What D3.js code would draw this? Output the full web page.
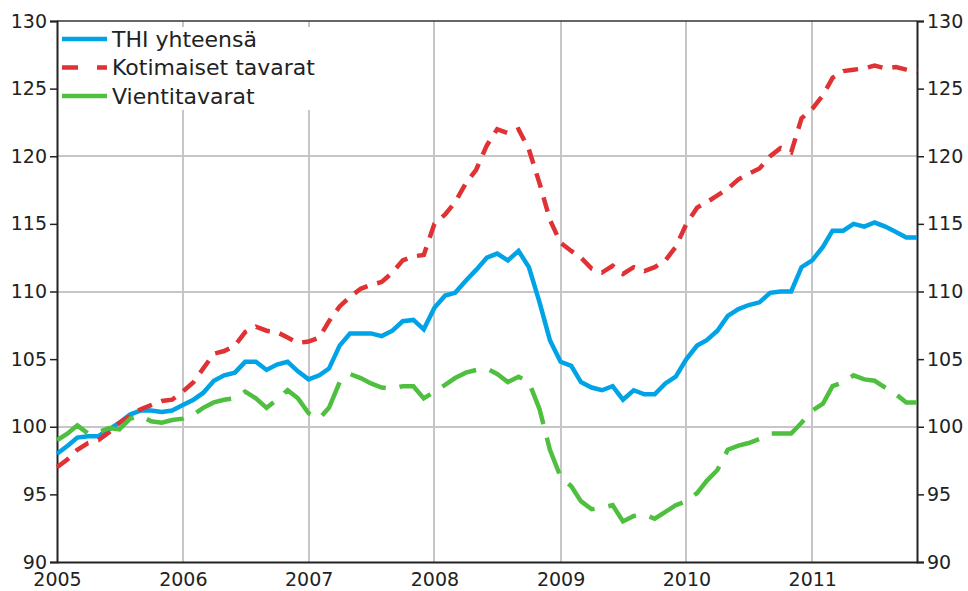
<!DOCTYPE html>
<html>
<head>
<meta charset="utf-8">
<script src="https://cdn.jsdelivr.net/npm/d3@7"></script>
<style>
  body { margin: 0; background: #fff; }
  svg { display: block; font-family: "DejaVu Sans", sans-serif; }
  .tick-label { font-size: 19px; fill: #222; }
  .legend text { font-size: 22px; fill: #222; }
</style>
</head>
<body>
<svg width="968" height="591"></svg>
<script>
// monthly index, first value = January 2005
const firstMonth = new Date(2005, 0, 1);
const years = [2005, 2006, 2007, 2008, 2009, 2010, 2011];
const yTicks = [90, 95, 100, 105, 110, 115, 120, 125, 130];
const yGrid = [100, 110, 120];
const seriesNames = ["THI yhteensä", "Kotimaiset tavarat", "Vientitavarat"];

const thi = [
  98.0, 98.6, 99.2, 99.3, 99.3, 99.8, 100.3, 100.9, 101.2, 101.2, 101.1, 101.2,
  101.6, 102.0, 102.5, 103.4, 103.8, 104.0, 104.8, 104.8, 104.2, 104.6, 104.8, 104.1,
  103.5, 103.8, 104.3, 106.0, 106.9, 106.9, 106.9, 106.7, 107.1, 107.8, 107.9, 107.2,
  108.8, 109.7, 109.9, 110.8, 111.6, 112.5, 112.8, 112.3, 113.0, 111.8, 109.2, 106.4,
  104.8, 104.5, 103.3, 102.9, 102.7, 103.0, 102.0, 102.7, 102.4, 102.4, 103.2, 103.7,
  105.0, 106.0, 106.4, 107.1, 108.2, 108.7, 109.0, 109.2, 109.9, 110.0, 110.0, 111.8,
  112.3, 113.3, 114.5, 114.5, 115.0, 114.8, 115.1, 114.8, 114.4, 114.0, 114.0
];
const kotimaiset = [
  97.0, 97.6, 98.3, 98.8, 99.0, 99.6, 100.3, 100.8, 101.3, 101.6, 101.9, 102.0,
  102.6, 103.3, 104.3, 105.4, 105.6, 106.0, 107.0, 107.4, 107.1, 107.0, 106.6, 106.2,
  106.3, 106.6, 107.8, 108.9, 109.6, 110.2, 110.5, 110.7, 111.4, 112.3, 112.6, 112.7,
  115.0, 115.7, 116.6, 118.0, 119.0, 120.8, 122.0, 121.7, 122.0, 120.5, 118.0, 115.3,
  113.6, 113.0, 112.5, 111.7, 111.4, 111.9, 111.3, 111.8, 111.5, 111.8, 112.3, 113.3,
  115.0, 116.2, 116.6, 117.1, 117.6, 118.3, 118.7, 119.1, 120.0, 120.6, 120.3, 122.8,
  123.5, 124.5, 125.8, 126.3, 126.4, 126.5, 126.7, 126.5, 126.6, 126.4, 126.2
];
const vienti = [
  99.0, 99.5, 100.1, 99.5, 99.6, 99.9, 99.8, 100.6, 100.8, 100.4, 100.3, 100.5,
  100.6, 100.9, 101.4, 101.8, 102.0, 102.1, 102.6, 102.1, 101.4, 102.0, 102.7, 102.1,
  101.0, 100.6, 101.4, 103.3, 103.9, 103.6, 103.2, 102.9, 102.8, 103.0, 103.0, 102.1,
  102.6, 103.1, 103.6, 104.0, 104.2, 104.3, 103.9, 103.3, 103.7, 103.3, 101.3, 98.3,
  96.3, 95.6, 94.5, 93.9, 94.0, 94.2, 93.0, 93.4, 93.5, 93.2, 93.7, 94.2,
  94.5, 95.1, 96.0, 96.8, 98.3, 98.6, 98.8, 99.1, 99.5, 99.5, 99.5, 100.3,
  101.2, 101.7, 103.0, 103.3, 103.8, 103.5, 103.4, 102.9, 102.4, 101.8, 101.8
];

const series = [
  { name: seriesNames[0], values: thi, color: "#00a3e6", dash: null, legendDash: null },
  { name: seriesNames[1], values: kotimaiset, color: "#e03234", dash: "15,10", legendDash: "16,19" },
  { name: seriesNames[2], values: vienti, color: "#4fbf3f", dash: "38,14", legendDash: null }
];

const svg = d3.select("svg");
const plotL = 57, plotR = 917, plotT = 21, plotB = 562;

const x = d3.scaleTime()
  .domain([firstMonth, d3.timeMonth.offset(firstMonth, thi.length - 1)])
  .range([plotL, plotR]);
const y = d3.scaleLinear().domain([90, 130]).range([plotB, plotT]);

// grid
const grid = svg.append("g").attr("stroke", "#c6c6c6").attr("stroke-width", 2);
grid.selectAll(".vg").data(years.slice(1)).enter().append("line")
  .attr("x1", d => Math.round(x(new Date(d, 0, 1)))).attr("x2", d => Math.round(x(new Date(d, 0, 1))))
  .attr("y1", plotT).attr("y2", plotB);
grid.selectAll(".hg").data(yGrid).enter().append("line")
  .attr("x1", plotL).attr("x2", plotR)
  .attr("y1", d => Math.round(y(d))).attr("y2", d => Math.round(y(d)));

// legend box hides the grid behind it
svg.append("rect").attr("x", plotL + 2).attr("y", 27).attr("width", 266).attr("height", 83).attr("fill", "#fff");

// frame
svg.append("line").attr("x1", plotL).attr("x2", plotR).attr("y1", plotT).attr("y2", plotT)
  .attr("stroke", "#333").attr("stroke-width", 1.5);

// left + right axes
const yLeft = svg.append("g").attr("transform", `translate(${plotL},0)`)
  .call(d3.axisLeft(y).tickValues(yTicks).tickSize(7).tickPadding(3));
const yRight = svg.append("g").attr("transform", `translate(${plotR},0)`)
  .call(d3.axisRight(y).tickValues(yTicks).tickSize(7).tickPadding(3));
const xAxis = svg.append("g").attr("transform", `translate(0,${plotB})`)
  .call(d3.axisBottom(x).tickValues(years.map(d => new Date(d, 0, 1))).tickFormat(d3.timeFormat("%Y")).tickSize(0).tickPadding(11));

[yLeft, yRight, xAxis].forEach(a => {
  a.select(".domain").attr("stroke", "#222").attr("stroke-width", 2);
  a.selectAll(".tick line").attr("stroke", "#222").attr("stroke-width", 1.5);
  a.selectAll(".tick text").attr("class", "tick-label");
  a.attr("font-size", null).attr("font-family", null);
});

// lines
const line = d3.line()
  .x((d, i) => x(d3.timeMonth.offset(firstMonth, i)))
  .y(d => y(d));

series.forEach(s => {
  svg.append("path")
    .datum(s.values)
    .attr("fill", "none")
    .attr("stroke", s.color)
    .attr("stroke-width", 4.5)
    .attr("stroke-dasharray", s.dash)
    .attr("d", line);
});

// legend
const legend = svg.append("g").attr("class", "legend");
series.forEach((s, i) => {
  const ly = 39 + i * 28.5;
  legend.append("line")
    .attr("x1", 62).attr("x2", 107).attr("y1", ly).attr("y2", ly)
    .attr("stroke", s.color).attr("stroke-width", 4.5)
    .attr("stroke-dasharray", s.legendDash);
  legend.append("text").attr("x", 112).attr("y", ly).attr("dy", "0.36em").text(s.name);
});
</script>
</body>
</html>
